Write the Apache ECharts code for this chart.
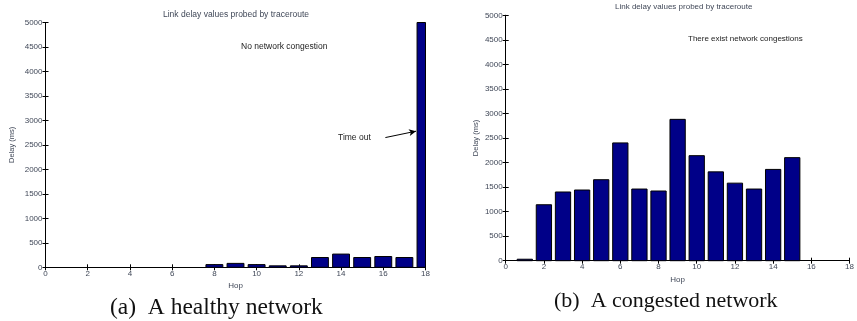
<!DOCTYPE html>
<html>
<head>
<meta charset="utf-8">
<script src="https://cdn.jsdelivr.net/npm/echarts@6/dist/echarts.min.js"></script>
<style>
  html, body { margin: 0; padding: 0; background: #fff; }
  #chart { width: 857px; height: 321px; }
</style>
</head>
<body>
<div id="chart"></div>
<script>
// (a) healthy network
const hopsA = [1, 2, 3, 4, 5, 6, 7, 8, 9, 10, 11, 12, 13, 14, 15, 16, 17, 18];
const delayA = [0, 0, 0, 0, 0, 0, 0, 55, 80, 55, 30, 30, 200, 270, 200, 220, 200, 5000];
// (b) congested network
const hopsB = [1, 2, 3, 4, 5, 6, 7, 8, 9, 10, 11, 12, 13, 14, 15];
const delayB = [30, 1140, 1400, 1440, 1650, 2400, 1460, 1420, 2880, 2140, 1810, 1580, 1460, 1860, 2100];

const xTicks = [0, 2, 4, 6, 8, 10, 12, 14, 16, 18];
const yTicks = [0, 500, 1000, 1500, 2000, 2500, 3000, 3500, 4000, 4500, 5000];

const titleText = 'Link delay values probed by traceroute';
const noteA = 'No network congestion';
const noteB = 'There exist network congestions';
const timeoutText = 'Time out';
const captionA = '(a)  A healthy network';
const captionB = '(b)  A congested network';

const FONT = 'Liberation Sans, Arial, sans-serif';
const SERIF = 'Liberation Serif, Times New Roman, serif';
const LABEL = '#404858';
const BAR = '#000088';
const BAR_W = 0.8; // matlab default bar width, in hop units

const chart = echarts.init(document.getElementById('chart'));

function bottomX(gi) {
  return {
    type: 'value', gridIndex: gi, position: 'bottom',
    min: xTicks[0], max: xTicks[xTicks.length - 1], interval: 2,
    name: 'Hop', nameLocation: 'middle', nameGap: 13,
    nameTextStyle: { fontSize: 8, color: LABEL, fontFamily: FONT },
    axisLine: { lineStyle: { color: '#000', width: 1 } },
    axisTick: { inside: true, length: 3, lineStyle: { color: '#000' } },
    axisLabel: { fontSize: 8, color: LABEL, fontFamily: FONT, margin: 2 },
    splitLine: { show: false }
  };
}
function topX(gi) {
  return {
    type: 'value', gridIndex: gi, position: 'top',
    min: xTicks[0], max: xTicks[xTicks.length - 1], interval: 2,
    axisLine: { lineStyle: { color: '#000', width: 1 } },
    axisTick: { inside: true, length: 3, lineStyle: { color: '#000' } },
    axisLabel: { show: false },
    splitLine: { show: false }
  };
}
function leftY(gi, gap) {
  return {
    type: 'value', gridIndex: gi, position: 'left',
    min: yTicks[0], max: yTicks[yTicks.length - 1], interval: 500,
    name: 'Delay (ms)', nameLocation: 'middle', nameGap: gap, nameRotate: 90,
    nameTextStyle: { fontSize: 7.5, color: LABEL, fontFamily: FONT },
    axisLine: { show: true, lineStyle: { color: '#000', width: 1 } },
    axisTick: { show: true, inside: true, length: 3, lineStyle: { color: '#000' } },
    axisLabel: { fontSize: 8, color: LABEL, fontFamily: FONT, margin: 3, formatter: (v) => String(v) },
    splitLine: { show: false }
  };
}
function rightY(gi) {
  return {
    type: 'value', gridIndex: gi, position: 'right',
    min: yTicks[0], max: yTicks[yTicks.length - 1], interval: 500,
    axisLine: { show: true, lineStyle: { color: '#000', width: 1 } },
    axisTick: { show: true, inside: true, length: 3, lineStyle: { color: '#000' } },
    axisLabel: { show: false },
    splitLine: { show: false }
  };
}

// bars drawn as custom rects so the last hop is clipped at the plot edge like matlab
function renderBar(params, api) {
  const x = api.value(0);
  const y = api.value(1);
  if (!y) return null;
  const p0 = api.coord([x - BAR_W / 2, y]);
  const p1 = api.coord([x + BAR_W / 2, 0]);
  const shape = echarts.graphic.clipRectByRect(
    { x: p0[0], y: p0[1], width: p1[0] - p0[0], height: p1[1] - p0[1] },
    { x: params.coordSys.x, y: params.coordSys.y, width: params.coordSys.width, height: params.coordSys.height }
  );
  return shape && {
    type: 'rect', shape: shape,
    style: { fill: BAR, stroke: '#000', lineWidth: 1 }
  };
}

const options = {
  animation: false,
  backgroundColor: '#fff',
  grid: [
    { left: 45.5, top: 22.5, width: 380, height: 244.8 },
    { left: 505.7, top: 15.3, width: 354.6, height: 245.4 }
  ],
  xAxis: [bottomX(0), bottomX(1), topX(0), topX(1)],
  yAxis: [leftY(0, 30), leftY(1, 26), rightY(0), rightY(1)],
  series: [
    {
      type: 'custom', xAxisIndex: 0, yAxisIndex: 0,
      renderItem: renderBar,
      data: hopsA.map((h, i) => [h, delayA[i]])
    },
    {
      type: 'custom', xAxisIndex: 1, yAxisIndex: 1,
      renderItem: renderBar,
      data: hopsB.map((h, i) => [h, delayB[i]])
    },
    {
      // "Time out" pointer
      type: 'line', xAxisIndex: 0, yAxisIndex: 0,
      data: [],
      markLine: {
        silent: true,
        symbol: ['none', 'arrow'], symbolSize: [5, 7],
        label: { show: false },
        lineStyle: { color: '#000', width: 1, type: 'solid' },
        data: [[{ coord: [16.1, 2650] }, { coord: [17.55, 2780] }]]
      }
    }
  ],
  graphic: [
    { type: 'text', left: 163, top: 10, style: { text: titleText, fontSize: 8.5, fill: LABEL, fontFamily: FONT } },
    { type: 'text', left: 615, top: 3, style: { text: titleText, fontSize: 8, fill: LABEL, fontFamily: FONT } },
    { type: 'text', left: 241, top: 42, style: { text: noteA, fontSize: 8.5, fill: '#222', fontFamily: FONT } },
    { type: 'text', left: 688, top: 35, style: { text: noteB, fontSize: 8, fill: '#222', fontFamily: FONT } },
    { type: 'text', left: 338, top: 133, style: { text: timeoutText, fontSize: 8.5, fill: '#222', fontFamily: FONT } },
    { type: 'text', left: 110, top: 296, style: { text: captionA, fontSize: 23.5, fill: '#111', fontFamily: SERIF } },
    { type: 'text', left: 554, top: 290, style: { text: captionB, fontSize: 22, fill: '#111', fontFamily: SERIF } }
  ]
};

chart.setOption(options);
</script>
</body>
</html>
